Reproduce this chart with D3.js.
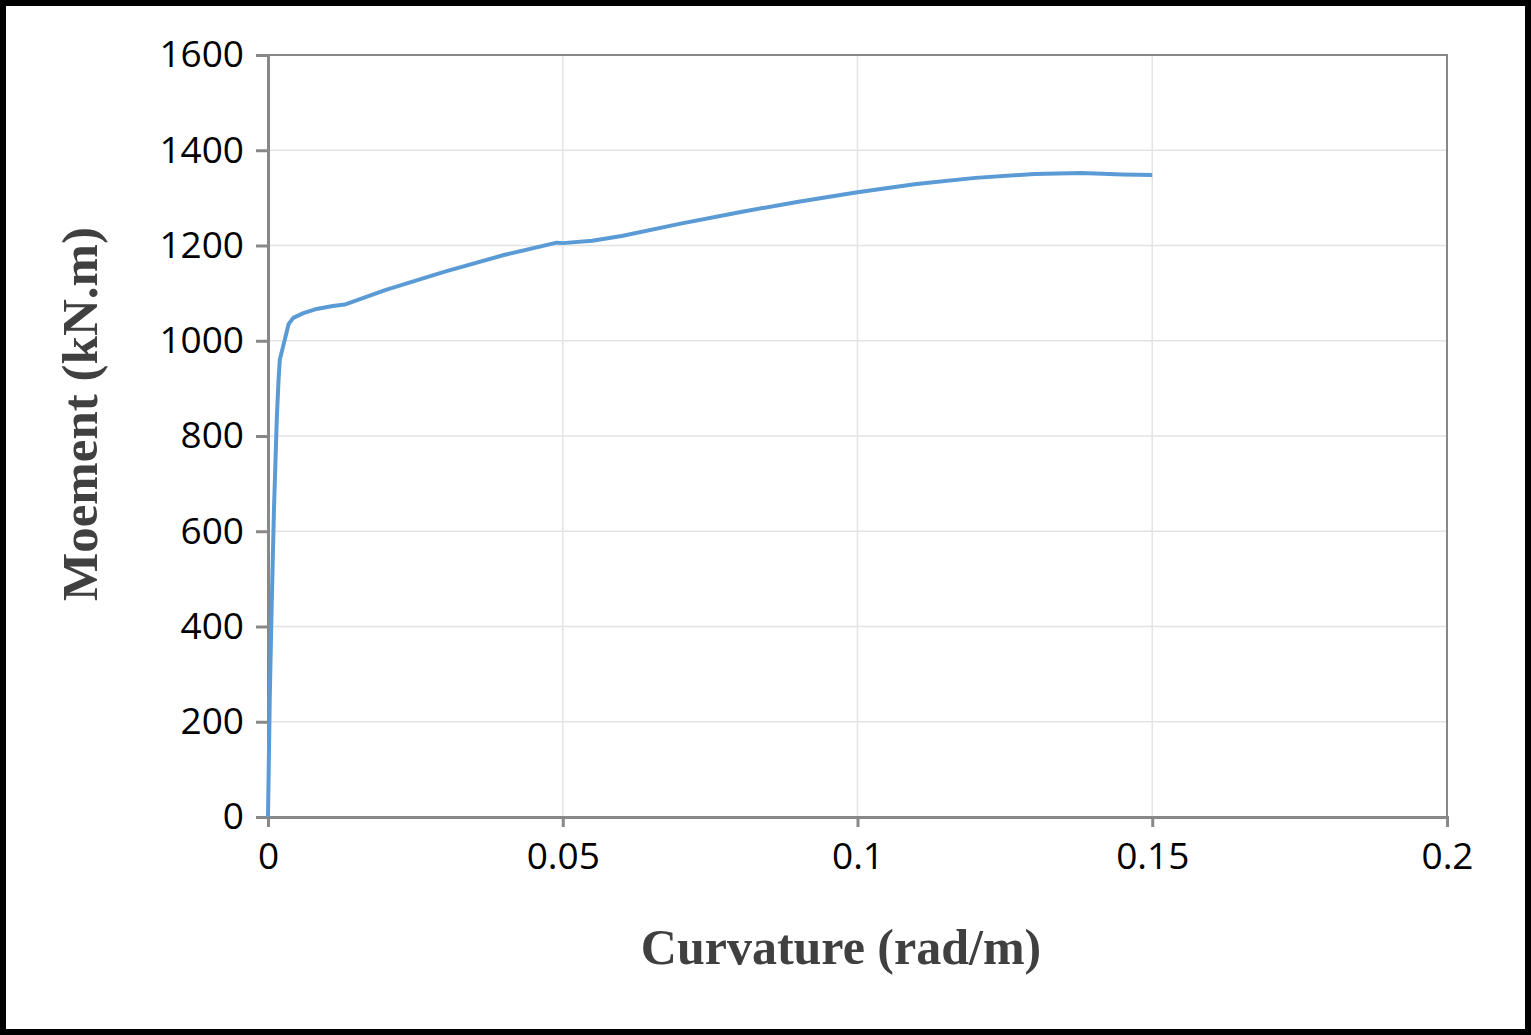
<!DOCTYPE html><html><head><meta charset="utf-8"><script src="https://cdn.jsdelivr.net/npm/d3@7"></script>
<style>body{margin:0;background:#fff}</style></head><body><svg id="c" width="1531" height="1035"></svg>
<script>
const curvature=[0,0.0003,0.0006,0.001,0.0015,0.0018,0.002,0.0025,0.003,0.0035,0.0043,0.006,0.008,0.011,0.013,0.02,0.03,0.04,0.049,0.05,0.055,0.06,0.07,0.08,0.09,0.1,0.11,0.12,0.13,0.138,0.145,0.15];
const moment=[0,250,430,640,840,920,960,985,1010,1035,1048,1058,1066,1073,1076,1107,1145,1180,1206,1205,1210,1220,1246,1270,1292,1312,1329,1342,1350,1352,1349,1348];
const xTicks=[0,0.05,0.1,0.15,0.2], yTicks=[0,200,400,600,800,1000,1200,1400,1600];
const svg=d3.select("#c");
svg.append("rect").attr("x",3).attr("y",3).attr("width",1525).attr("height",1029).attr("fill","#fff").attr("stroke","#000").attr("stroke-width",6);
const x=d3.scaleLinear().domain([0,0.2]).range([268,1447]);
const y=d3.scaleLinear().domain([0,1600]).range([817,55]);
const g=svg.append("g");
g.selectAll(".vg").data(xTicks.slice(1)).join("line").attr("x1",x).attr("x2",x).attr("y1",55).attr("y2",817).attr("stroke","#e3e3e3").attr("stroke-width",1.5);
g.selectAll(".hg").data(yTicks.slice(1)).join("line").attr("y1",y).attr("y2",y).attr("x1",268).attr("x2",1447).attr("stroke","#e3e3e3").attr("stroke-width",1.5);
svg.append("rect").attr("x",268).attr("y",55).attr("width",1179).attr("height",762).attr("fill","none").attr("stroke","#888").attr("stroke-width",2);
const xa=svg.append("g").attr("transform","translate(0,817)").call(d3.axisBottom(x).tickValues(xTicks).tickFormat(d=>String(d)).tickSize(10).tickPadding(16));
const ya=svg.append("g").attr("transform","translate(268,0)").call(d3.axisLeft(y).tickValues(yTicks).tickFormat(d=>String(d)).tickSize(12).tickPadding(12));
[xa,ya].forEach(a=>{a.select(".domain").attr("stroke","#888").attr("stroke-width",3);a.selectAll("line").attr("stroke","#888").attr("stroke-width",3);a.selectAll("text").attr("font-family","Open Sans, sans-serif").attr("font-size",37).attr("fill","#000");});
svg.append("path").datum(curvature.map((c,i)=>[c,moment[i]])).attr("d",d3.line().x(d=>x(d[0])).y(d=>y(d[1]))).attr("fill","none").attr("stroke","#5b9bd5").attr("stroke-width",4).attr("stroke-linejoin","round");
svg.append("text").attr("x",841).attr("y",964).attr("text-anchor","middle").attr("font-family","Liberation Serif, serif").attr("font-weight","bold").attr("font-size",50).attr("fill","#404040").text("Curvature (rad/m)");
svg.append("text").attr("transform","translate(97,414) rotate(-90)").attr("text-anchor","middle").attr("font-family","Liberation Serif, serif").attr("font-weight","bold").attr("font-size",51).attr("fill","#404040").text("Moement (kN.m)");
</script></body></html>
